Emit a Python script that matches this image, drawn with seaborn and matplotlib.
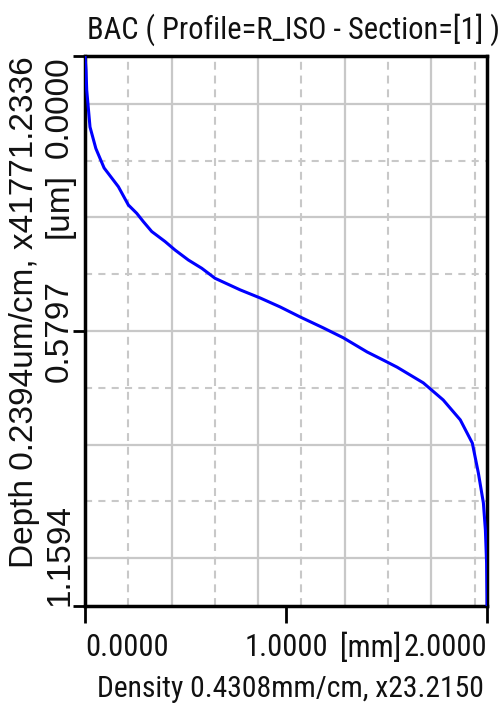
import numpy as np
import pandas as pd
import matplotlib
matplotlib.use("Agg")
import matplotlib.pyplot as plt
from matplotlib import font_manager
import seaborn as sns

# ---------------- data ----------------
density = [0.0, 0.005, 0.0085, 0.0249, 0.054, 0.095, 0.166, 0.2156,
           0.2574, 0.290, 0.332, 0.398, 0.448, 0.514, 0.581, 0.647,
           0.772, 0.871, 0.971, 1.070, 1.185, 1.285, 1.404, 1.484, 1.553,
           1.683, 1.782, 1.867, 1.927, 1.957, 1.982, 1.992, 1.998, 2.0, 2.0]
depth = [0.0, 0.0295, 0.0717, 0.1497, 0.195, 0.236, 0.2755, 0.314,
         0.3316, 0.349, 0.370, 0.391, 0.409, 0.430, 0.4475, 0.4686,
         0.493, 0.510, 0.529, 0.550, 0.573, 0.594, 0.624, 0.641, 0.656,
         0.689, 0.725, 0.767, 0.816, 0.879, 0.942, 0.999, 1.069, 1.140, 1.1594]

x_ticks = [0.0, 1.0, 2.0]
x_ticklabels = ["0.0000", "1.0000", "2.0000"]
y_ticks = [0.0, 0.5797, 1.1594]
y_ticklabels = ["0.0000", "0.5797", "1.1594"]
x_grid_step = 0.4308
y_grid_step = 0.2394
y_grid_center = 0.5797

title = "BAC ( Profile=R_ISO - Section=[1] )"
x_label = "Density 0.4308mm/cm, x23.2150"
y_label = "Depth 0.2394um/cm, x41771.2336"
x_unit = "[mm]"
y_unit = "[um]"

# ---------------- style ----------------
sns.set_theme(style="white")
plt.rcParams["font.family"] = ["Liberation Sans", "DejaVu Sans"]

names = {f.name for f in font_manager.fontManager.ttflist}
hfont, hscale = ["Liberation Sans", "DejaVu Sans"], 0.85
for cand in ["Roboto Condensed", "Liberation Sans Narrow", "Archivo Narrow"]:
    if cand in names:
        hfont, hscale = [cand, "Liberation Sans", "DejaVu Sans"], 1.0
        break
vfont = ["Liberation Sans", "DejaVu Sans"]
txt_color = "#111111"

W, H = 504, 706
L, R, T, B = 85, 487, 56, 606
fig = plt.figure(figsize=(W / 100, H / 100), dpi=100)
fig.patch.set_facecolor("white")
ax = fig.add_axes([L / W, 1 - B / H, (R - L) / W, (B - T) / H])
ax.set_facecolor("white")

df = pd.DataFrame({"density": density, "depth": depth})
sns.lineplot(data=df, x="density", y="depth", sort=False, estimator=None,
             color="#0000ff", linewidth=2.2, ax=ax, zorder=3)

ax.set_xlim(0, 2.0)
ax.set_ylim(1.1594, 0)

# grid
xs_solid = np.arange(x_grid_step, 2.0, x_grid_step)
xs_dash = np.arange(x_grid_step / 2, 2.0, x_grid_step)
ks = np.arange(-3, 4)
ys_solid = [y_grid_center + k * y_grid_step for k in ks
            if 0 < y_grid_center + k * y_grid_step < 1.1594]
ys_dash = [y_grid_center + (k + 0.5) * y_grid_step for k in ks
           if 0 < y_grid_center + (k + 0.5) * y_grid_step < 1.1594]
gcol = "#c8c8c8"
ax.vlines(xs_solid, 0, 1, transform=ax.get_xaxis_transform(), colors=gcol,
          linewidth=1.6, zorder=1)
ax.hlines(ys_solid, 0, 1, transform=ax.get_yaxis_transform(), colors=gcol,
          linewidth=1.6, zorder=1)
ax.vlines(xs_dash, 0, 1, transform=ax.get_xaxis_transform(), colors=gcol,
          linewidth=1.5, linestyles=(0, (3.8, 2.8)), zorder=1)
ax.hlines(ys_dash, 0, 1, transform=ax.get_yaxis_transform(), colors=gcol,
          linewidth=1.5, linestyles=(0, (3.4, 3.0)), zorder=1)
ax.grid(False)

for s in ax.spines.values():
    s.set_visible(True)
    s.set_color("black")
    s.set_linewidth(2.5)

hs = 22 * hscale
# ticks
ax.set_xticks(x_ticks)
ax.set_xticklabels(x_ticklabels, fontfamily=hfont, fontsize=hs,
                   color=txt_color)
ax.set_yticks(y_ticks)
ax.set_yticklabels(y_ticklabels, fontfamily=vfont, fontsize=24,
                   color=txt_color, rotation=90)
ax.tick_params(axis="x", direction="out", length=12.2, width=2.0, pad=7,
               color="black", bottom=True)
ax.tick_params(axis="y", direction="out", length=8.6, width=2.0, pad=-1.5,
               color="black", left=True)
xl = ax.get_xticklabels()
xl[0].set_ha("left"); xl[1].set_ha("center"); xl[2].set_ha("right")
yl = ax.get_yticklabels()
for t in yl:
    t.set_ha("right")
yl[0].set_va("top"); yl[1].set_va("center"); yl[2].set_va("bottom")

# labels
ax.set_xlabel(x_label, loc="right", fontfamily=hfont, fontsize=21.3 * hscale,
              color=txt_color)
ax.xaxis.set_label_coords((484 - L) / (R - L), (B - 675) / (B - T))
ax.set_ylabel(y_label, loc="top", fontfamily=vfont, fontsize=24,
              color=txt_color)
ax.yaxis.set_label_coords((40 - L) / (R - L), 1.0)
ax.set_title(title, x=(293.5 - L) / (R - L), pad=12.2, fontfamily=hfont,
             fontsize=hs, color=txt_color)

fig.text(340 / W, 1 - 633 / H, x_unit, ha="left", va="top",
         fontfamily=hfont, fontsize=hs, color=txt_color)
fig.text(75 / W, 1 - 206 / H, y_unit, ha="right", va="center", rotation=90,
         fontfamily=vfont, fontsize=24, color=txt_color)

fig.savefig("out.png", dpi=100, facecolor="white")
